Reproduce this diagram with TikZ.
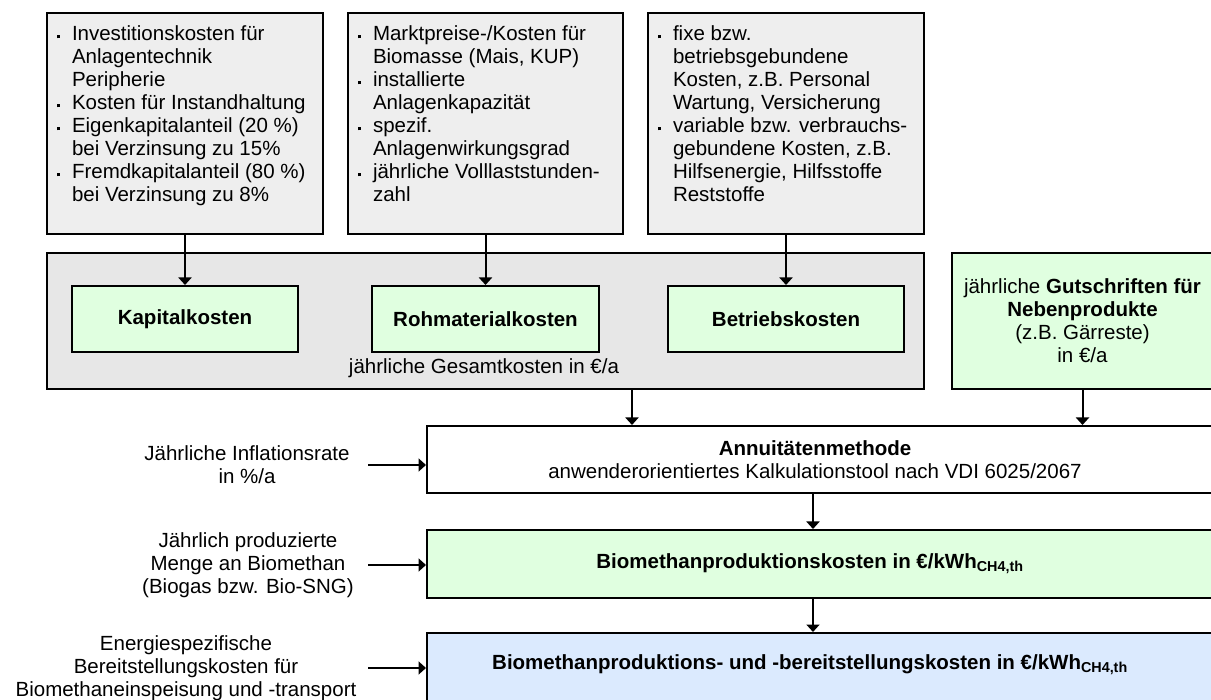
\documentclass[tikz,border=0pt]{standalone}
\usepackage{fontspec}
\setmainfont{Liberation Sans}
\usetikzlibrary{arrows.meta}

\definecolor{hellgrau}{RGB}{238,238,238}
\definecolor{mittelgrau}{RGB}{231,231,231}
\definecolor{hellgruen}{RGB}{224,255,224}
\definecolor{hellblau}{RGB}{219,234,254}

\newcommand{\pkt}{\makebox[15pt][l]{\rule[2.5pt]{3pt}{3pt}}}
\newcommand{\ein}{\hspace*{15pt}}

\begin{document}
\fontsize{20.5}{23}\selectfont
\begin{tikzpicture}  % ------ Kosten Biomethan -------------------
      [x=1pt,y=-1pt, line width=2pt, every node/.style={inner sep=0pt},
       grau/.style={draw, fill=hellgrau},
       gruen/.style={draw, fill=hellgruen},
       liste/.style={align=left, anchor=north west},
       pfeil/.style={-{Triangle[length=7.5pt,width=13pt]}}]

    \useasboundingbox (0,0) rectangle (1211,700);

    \coordinate (links) at (368,0);
    \coordinate (mitte) at (813,0);

    % obere Kaesten
    \node[grau, minimum width=276pt, minimum height=221pt] (invest) at (185,123.5) {};
    \node[grau, minimum width=275pt, minimum height=221pt] (markt) at (485.5,123.5) {};
    \node[grau, minimum width=276pt, minimum height=221pt] (betrieb) at (786,123.5) {};

    \node[liste] (investtxt) at ([xshift=10pt,yshift=-13pt]invest.north west)
      {\pkt Investitionskosten für\\\ein Anlagentechnik\\\ein Peripherie\\
       \pkt Kosten für Instandhaltung\\\pkt Eigenkapitalanteil (20 \%)\\
       \ein bei Verzinsung zu 15\%\\\pkt Fremdkapitalanteil (80 \%)\\
       \ein bei Verzinsung zu 8\%};
    \node[liste] (markttxt) at ([xshift=10pt,yshift=-13pt]markt.north west)
      {\pkt Marktpreise-/Kosten für\\\ein Biomasse (Mais, KUP)\\
       \pkt installierte\\\ein Anlagenkapazität\\\pkt spezif.\\
       \ein Anlagenwirkungsgrad\\\pkt jährliche Volllaststunden-\\\ein zahl};
    \node[liste] (betriebtxt) at ([xshift=10pt,yshift=-13pt]betrieb.north west)
      {\pkt fixe bzw.\\\ein betriebsgebundene\\\ein Kosten, z.B. Personal\\
       \ein Wartung, Versicherung\\\pkt variable bzw. verbrauchs-\\
       \ein gebundene Kosten, z.B.\\\ein Hilfsenergie, Hilfsstoffe\\\ein Reststoffe};

    % Gesamtkosten
    \node[draw, fill=mittelgrau, minimum width=877pt, minimum height=136pt] (gesamt) at (485.5,321) {};
    \node[gruen, minimum width=226pt, minimum height=66pt, font=\bfseries] (kapital) at (185,319) {Kapitalkosten};
    \node[gruen, minimum width=227pt, minimum height=66pt, font=\bfseries] (rohstoff) at (485.5,319) {Rohmaterialkosten};
    \node[gruen, minimum width=236pt, minimum height=66pt, font=\bfseries] (betriebsk) at (786,319) {Betriebskosten};
    \node (gesamttxt) at (484,368) {jährliche Gesamtkosten in €/a};

    \node[gruen, minimum width=261pt, minimum height=136pt, align=center] (gutschrift) at (1082.5,321)
      {jährliche \textbf{Gutschriften für}\\\textbf{Nebenprodukte}\\(z.B. Gärreste)\\in €/a};

    \draw[pfeil] (invest) -- (kapital);
    \draw[pfeil] (markt) -- (rohstoff);
    \draw[pfeil] (betrieb) -- (betriebsk);

    % Annuitaetenmethode und Ergebnis
    \node[draw, fill=white, minimum width=786pt, minimum height=67pt] (annuitaet) at (820,459.5) {};
    \node[align=center] (annuitaettxt) at (815,459.5)
      {\textbf{Annuitätenmethode}\\anwenderorientiertes Kalkulationstool nach VDI 6025/2067};
    \node[gruen, minimum width=786pt, minimum height=68pt] (produktion) at (820,564) {};
    \node[font=\bfseries] (produktiontxt) at (810,564) {Biomethanproduktionskosten in €/kWh\textsubscript{CH4,th}};
    \node[draw, fill=hellblau, minimum width=786pt, minimum height=80pt] (bereit) at (820,673) {};
    \node[font=\bfseries] (bereittxt) at (810,665)
      {Biomethanproduktions- und -bereitstellungskosten in €/kWh\textsubscript{CH4,th}};

    \draw[pfeil] ([xshift=146.5pt]gesamt.south) -- ([xshift=146.5pt]gesamt.south |- annuitaet.north);
    \draw[pfeil] (gutschrift.south) -- (gutschrift.south |- annuitaet.north);
    \draw[pfeil] (mitte |- annuitaet.south) -- (mitte |- produktion.north);
    \draw[pfeil] (mitte |- produktion.south) -- (mitte |- bereit.north);

    % Eingangsgroessen links
    \node[align=center] (inflation) at (247,465) {Jährliche Inflationsrate\\in \%/a};
    \node[align=center] (menge) at (248,565) {Jährlich produzierte\\Menge an Biomethan\\(Biogas bzw. Bio-SNG)};
    \node[align=center] (energie) at (186,668)
      {Energiespezifische\\Bereitstellungskosten für\\Biomethaneinspeisung und -transport};

    \draw[pfeil] (links |- inflation) -- (annuitaet.west |- inflation);
    \draw[pfeil] (links |- menge) -- (produktion.west |- menge);
    \draw[pfeil] (links |- energie) -- (bereit.west |- energie);
\end{tikzpicture}
\end{document}
